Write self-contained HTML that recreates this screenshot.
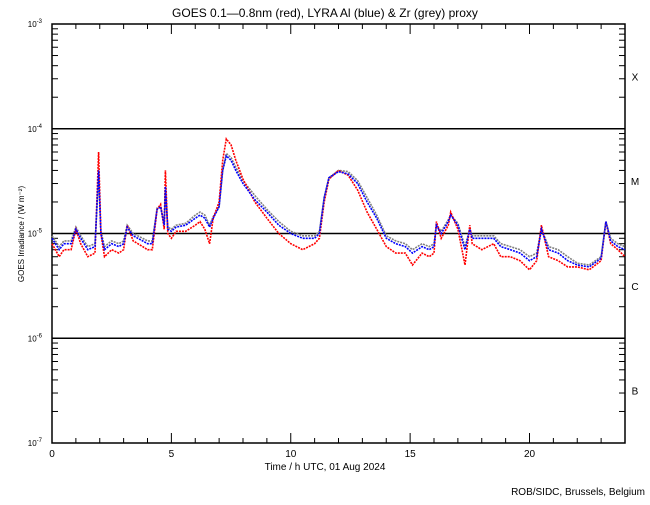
<!DOCTYPE html>
<html><head><meta charset="utf-8"><style>
body{margin:0;background:#fff;font-family:"Liberation Sans",sans-serif}
svg text{font-family:"Liberation Sans",sans-serif}
</style></head><body>
<svg id="c" width="650" height="500"></svg>
<script>
const hours=[0,0.3,0.5,0.8,1.0,1.2,1.5,1.8,1.95,2.05,2.2,2.5,2.8,3.0,3.15,3.4,3.8,4.0,4.2,4.4,4.55,4.7,4.75,4.85,5.0,5.2,5.6,6.0,6.2,6.4,6.6,6.75,7.0,7.15,7.3,7.5,7.7,8.0,8.5,9.0,9.5,10,10.5,11.0,11.2,11.4,11.6,12.0,12.4,12.8,13.2,13.6,14.0,14.4,14.8,15.1,15.5,15.8,16.0,16.1,16.3,16.6,16.7,17.0,17.3,17.5,17.6,18.0,18.5,18.8,19.2,19.6,20.0,20.3,20.5,20.8,21.2,21.6,22.0,22.5,23.0,23.2,23.4,23.7,24];
const red=[8e-6,6e-6,7e-6,7e-6,1.1e-5,8e-6,6e-6,6.5e-6,6e-5,1e-5,6e-6,7e-6,6.5e-6,7e-6,1.2e-5,8.5e-6,7.5e-6,7e-6,7e-6,1.7e-5,1.9e-5,1.1e-5,4e-5,1e-5,9e-6,1.05e-5,1.05e-5,1.2e-5,1.3e-5,1.1e-5,8e-6,1.4e-5,2e-5,5e-5,8e-5,7e-5,5e-5,3.3e-5,2e-5,1.4e-5,1e-5,8e-6,7e-6,8e-6,9e-6,2e-5,3.3e-5,4e-5,3.6e-5,2.6e-5,1.6e-5,1.1e-5,7.5e-6,6.5e-6,6.5e-6,5e-6,6.5e-6,6e-6,6.5e-6,1.3e-5,9e-6,1.2e-5,1.6e-5,1.1e-5,5e-6,1.2e-5,8e-6,7e-6,8e-6,6e-6,6e-6,5.5e-6,4.5e-6,5.5e-6,1.2e-5,6e-6,5.5e-6,4.8e-6,4.8e-6,4.5e-6,5.5e-6,1.3e-5,8e-6,7e-6,6e-6];
const blue=[9e-6,7e-6,8e-6,8e-6,1.1e-5,9e-6,7e-6,7.5e-6,4e-5,1e-5,7e-6,8e-6,7.5e-6,8e-6,1.15e-5,9.5e-6,8.5e-6,8e-6,8e-6,1.7e-5,1.8e-5,1.2e-5,2.8e-5,1.1e-5,1.05e-5,1.15e-5,1.2e-5,1.4e-5,1.5e-5,1.4e-5,1.15e-5,1.4e-5,1.8e-5,4e-5,5.5e-5,5e-5,4e-5,3e-5,2.1e-5,1.6e-5,1.2e-5,1e-5,9e-6,9e-6,1e-5,2.2e-5,3.4e-5,3.9e-5,3.7e-5,3e-5,2e-5,1.4e-5,9e-6,8e-6,7.5e-6,6.5e-6,7.5e-6,7e-6,7.5e-6,1.2e-5,1e-5,1.3e-5,1.5e-5,1.2e-5,7e-6,1.1e-5,9e-6,9e-6,9e-6,7.5e-6,7e-6,6.5e-6,5.5e-6,6e-6,1.1e-5,7e-6,6.5e-6,5.5e-6,5e-6,4.8e-6,5.8e-6,1.3e-5,8.5e-6,7.5e-6,7e-6];
const grey=[9.5e-6,7.5e-6,8.5e-6,8.5e-6,1.15e-5,9.5e-6,7.5e-6,8e-6,3.5e-5,1.05e-5,7.5e-6,8.5e-6,8e-6,8.5e-6,1.2e-5,1e-5,9e-6,8.5e-6,8.5e-6,1.75e-5,1.8e-5,1.25e-5,2.5e-5,1.15e-5,1.1e-5,1.2e-5,1.25e-5,1.5e-5,1.6e-5,1.5e-5,1.2e-5,1.45e-5,1.8e-5,4e-5,5.8e-5,5.3e-5,4.3e-5,3.2e-5,2.3e-5,1.7e-5,1.3e-5,1.05e-5,9.5e-6,9.5e-6,1.05e-5,2.2e-5,3.4e-5,4e-5,3.9e-5,3.2e-5,2.2e-5,1.5e-5,9.5e-6,8.5e-6,8e-6,7e-6,8e-6,7.5e-6,8e-6,1.2e-5,1.05e-5,1.35e-5,1.5e-5,1.25e-5,7.5e-6,1.1e-5,9.5e-6,9.5e-6,9.5e-6,8e-6,7.5e-6,7e-6,6e-6,6.5e-6,1.1e-5,7.5e-6,7e-6,6e-6,5.2e-6,5e-6,6e-6,1.3e-5,9e-6,8e-6,7.5e-6];
const xTicks=[0,5,10,15,20];
const classes=["X","M","C","B"];
const NS="http://www.w3.org/2000/svg";
const svg=document.getElementById('c');
const L=52,R=625,T=24,B=443;
const xs=h=>L+(R-L)*h/24;
const ys=v=>T+(-3-Math.log10(v))*(B-T)/4;
function el(t,a,txt){const e=document.createElementNS(NS,t);for(const k in a)e.setAttribute(k,a[k]);if(txt!==undefined)e.textContent=txt;svg.appendChild(e);return e;}
let e;
e=el('text',{x:325,y:17,'font-size':12,'text-anchor':'middle'},'GOES 0.1\u20140.8nm (red), LYRA Al (blue) & Zr (grey) proxy');


e=el('rect',{x:L,y:T,width:R-L,height:B-T,fill:'none',stroke:'#000','stroke-width':1.5});


for(let d=-7;d<=-3;d++){
  const y=ys(Math.pow(10,d));
  if(d>-7&&d<-3){e=el('line',{x1:L,x2:R,y1:y,y2:y,stroke:'#000','stroke-width':1.5});
  
  }
  e=el('text',{x:L-4,y:y+3,'font-size':8,'text-anchor':'end'},'10');
  
  
  const s=el('tspan',{dy:-4,'font-size':6},String(d));
  e.appendChild(s);
  e.setAttribute('x',L-10);
  if(d<-3){for(let m=2;m<=9;m++){const yy=ys(m*Math.pow(10,d));
    el('line',{x1:L,x2:L+6,y1:yy,y2:yy,stroke:'#000'});
    el('line',{x1:R,x2:R-6,y1:yy,y2:yy,stroke:'#000'});}}
}
for(let h=0;h<=24;h++){const x=xs(h);const len=h%5==0?10:5;
  el('line',{x1:x,x2:x,y1:B,y2:B-len,stroke:'#000'});
  el('line',{x1:x,x2:x,y1:T,y2:T+len,stroke:'#000'});}
xTicks.forEach(t=>{e=el('text',{x:xs(t),y:B+14,'font-size':10,'text-anchor':'middle'},String(t));
  
  });
classes.forEach((c,i)=>{e=el('text',{x:635,y:ys(Math.pow(10,-3-i-0.5))+4,'font-size':10,'text-anchor':'middle'},c);
  
  });
e=el('text',{x:325,y:470,'font-size':10,'text-anchor':'middle'},'Time / h UTC, 01 Aug 2024');


e=el('text',{x:0,y:0,'font-size':8,'text-anchor':'middle',transform:'translate(24,234) rotate(-90)'},'GOES Irradiance / (W m\u207B\u00B2)');


e=el('text',{x:645,y:495,'font-size':10,'text-anchor':'end'},'ROB/SIDC, Brussels, Belgium');


[[grey,'#808080','grey-series'],[red,'#ff0000','red-series'],[blue,'#0000ff','blue-series']].forEach(([arr,col,nm])=>{
  const pts=hours.map((h,i)=>xs(h).toFixed(1)+','+ys(arr[i]).toFixed(1)).join(' ');
  e=el('polyline',{points:pts,fill:'none',stroke:col,'stroke-width':1.6,'stroke-dasharray':'2 1'});
  
  
});
</script>
</body></html>
